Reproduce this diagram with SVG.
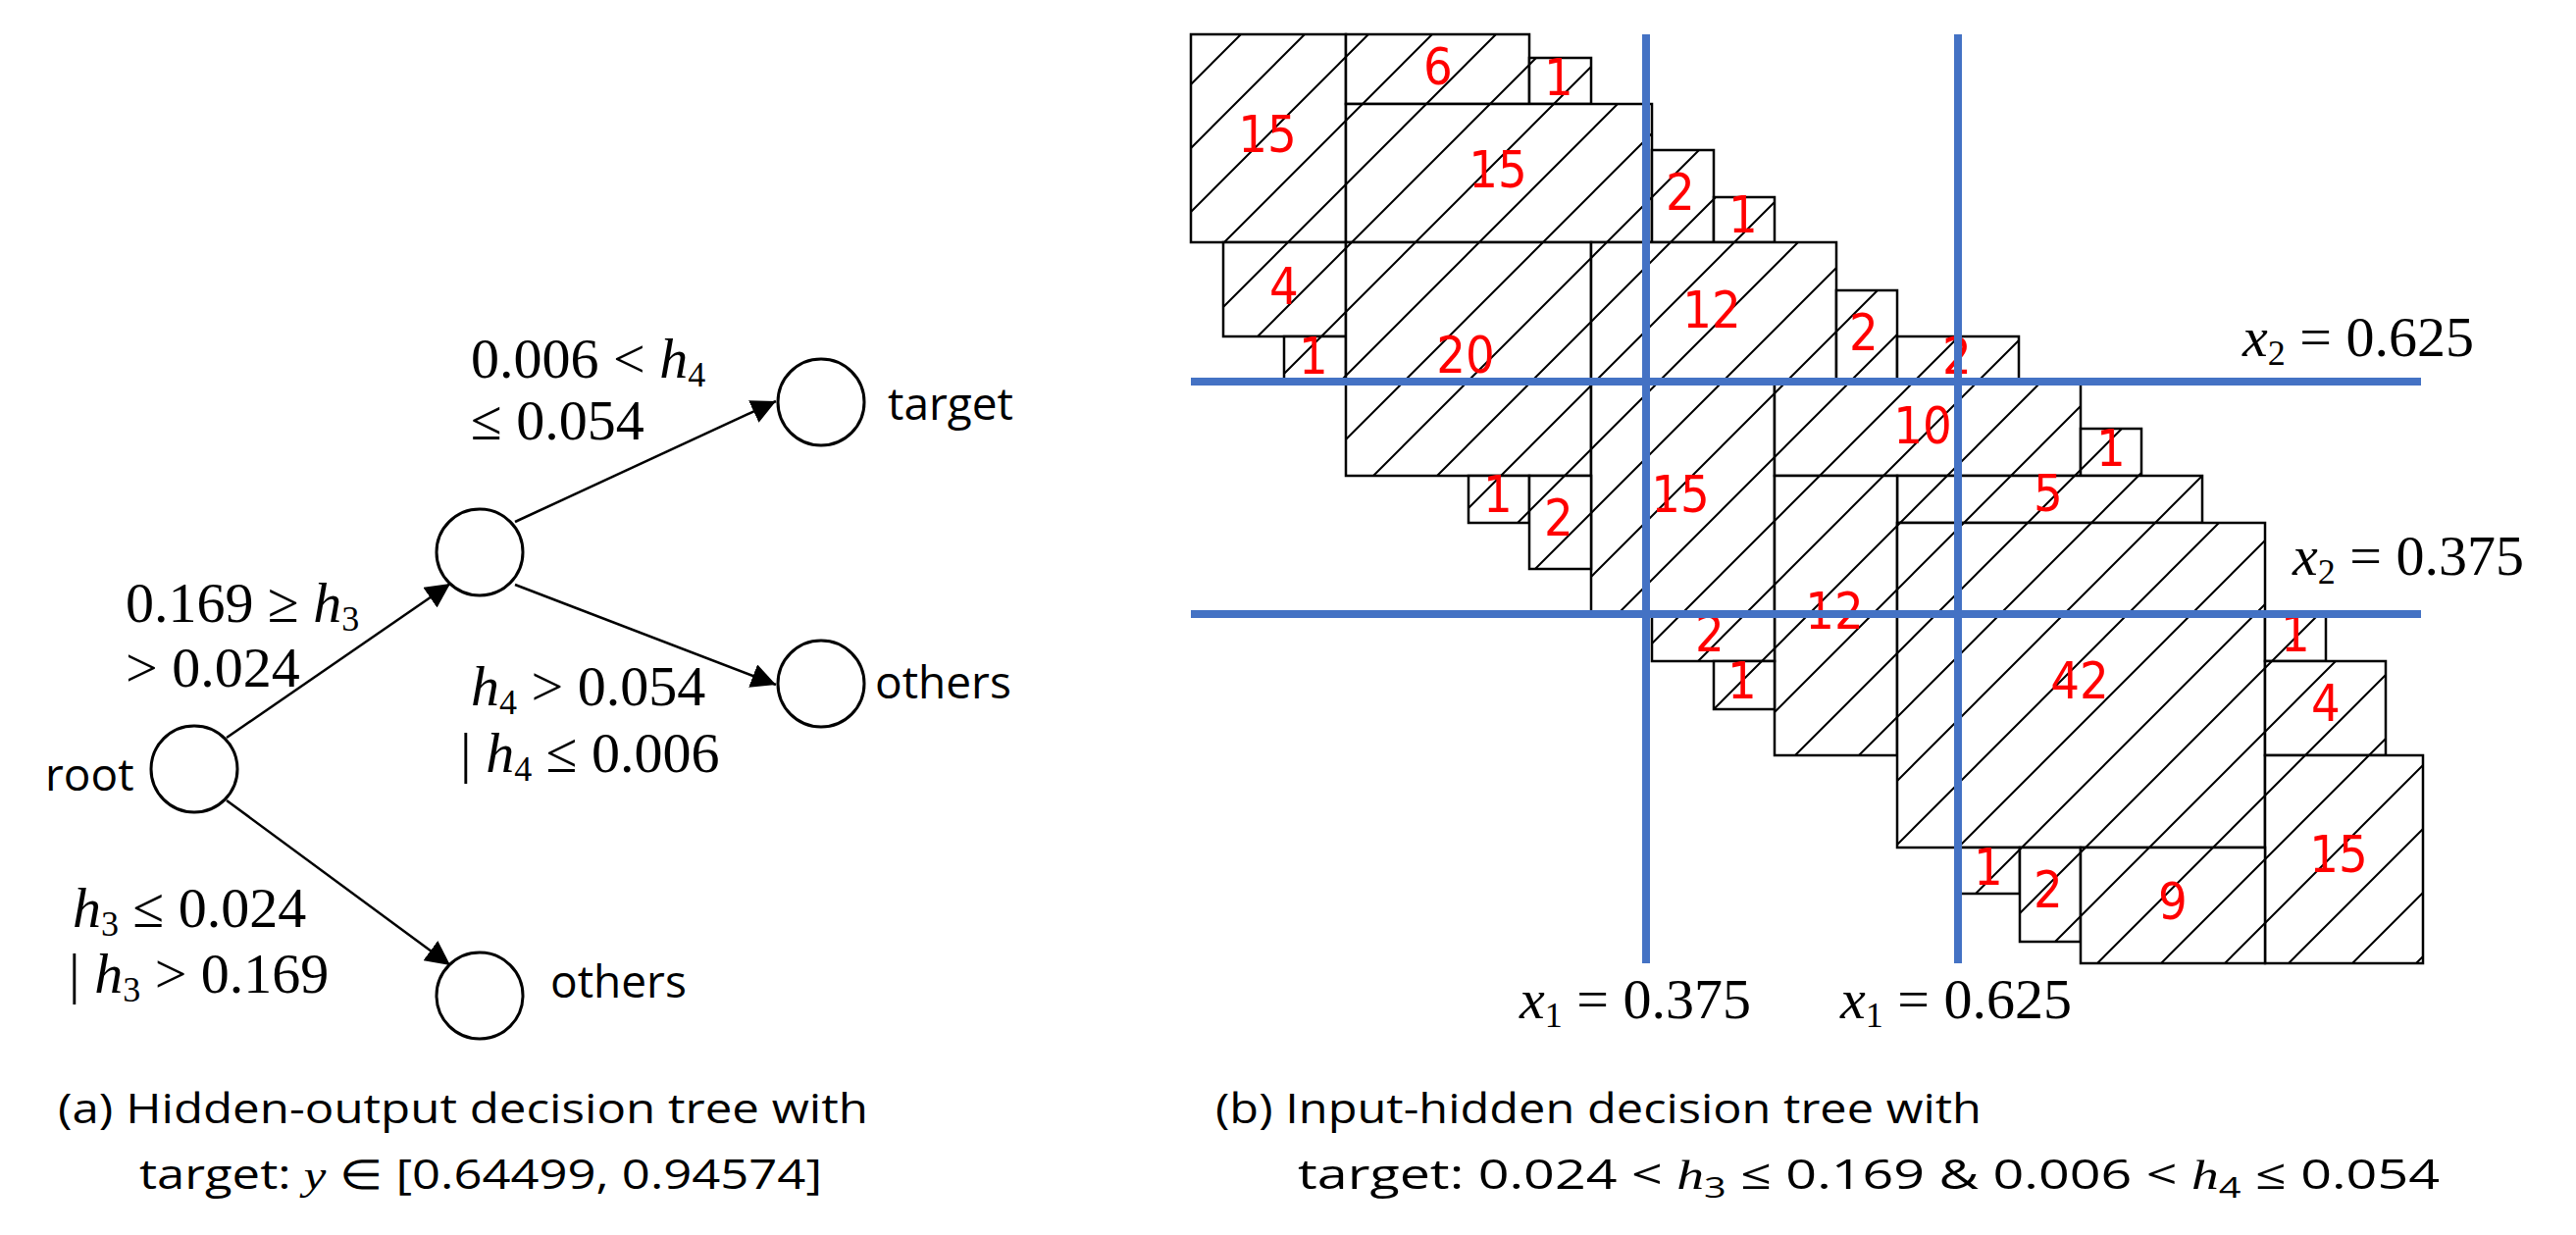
<svg xmlns="http://www.w3.org/2000/svg" width="2626" height="1259" viewBox="0 0 2626 1259">
<defs>
<style>
.nd{fill:#fff;stroke:#000;stroke-width:3}
.m{font-family:"Liberation Serif",serif;font-size:58px;fill:#000}
.i{font-style:italic}
.s{font-size:36px}
.lb{font-family:"Open Sans","Liberation Sans",sans-serif;font-size:46px;fill:#000}
.cap{font-family:"Open Sans","Liberation Sans",sans-serif;font-size:42px;fill:#000}
.r{fill:url(#hatch);stroke:#000;stroke-width:2.5}
.n{font-family:"DejaVu Sans Condensed","DejaVu Sans",sans-serif;font-size:52px;fill:#ff0000;text-anchor:middle}
.bl{stroke:#4472c4;stroke-width:8}
</style>
<marker id="ah2" viewBox="0 0 10 10" refX="10" refY="5" markerWidth="10" markerHeight="10" orient="auto"><path d="M0,0L10,5L0,10z" fill="#000"/></marker>
<pattern id="hatch" patternUnits="userSpaceOnUse" width="65" height="65"><rect width="65" height="65" fill="#fff"/><path d="M-10,10L10,-10M0,65L65,0M55,75L75,55" stroke="#000" stroke-width="2"/></pattern>
</defs>
<rect width="2626" height="1259" fill="#fff"/>

<g id="connectors">
<line x1="231" y1="752" x2="459" y2="595" stroke="#000" stroke-width="2.5" marker-end="url(#ah2)"/>
<line x1="525" y1="532" x2="791" y2="409" stroke="#000" stroke-width="2.5" marker-end="url(#ah2)"/>
<line x1="525" y1="596" x2="791" y2="698" stroke="#000" stroke-width="2.5" marker-end="url(#ah2)"/>
<line x1="231" y1="816" x2="459" y2="984" stroke="#000" stroke-width="2.5" marker-end="url(#ah2)"/>
</g>

<g id="root"><ellipse class="nd" cx="198" cy="784" rx="44" ry="44"/><text class="lb" x="46" y="806">root</text></g>
<g id="mid"><ellipse class="nd" cx="489" cy="563" rx="44" ry="44"/></g>
<g id="target"><ellipse class="nd" cx="837" cy="410" rx="44" ry="44"/><text class="lb" x="905" y="428">target</text></g>
<g id="others1"><ellipse class="nd" cx="837" cy="697" rx="44" ry="44"/><text class="lb" x="892" y="712">others</text></g>
<g id="others2"><ellipse class="nd" cx="489" cy="1015" rx="44" ry="44"/><text class="lb" x="561" y="1017">others</text></g>

<g id="edge-labels">
<text class="m" x="480" y="385">0.006 &lt; <tspan class="i">h</tspan><tspan class="s" dy="9">4</tspan></text>
<text class="m" x="480" y="448">≤ 0.054</text>
<text class="m" x="128" y="634">0.169 ≥ <tspan class="i">h</tspan><tspan class="s" dy="9">3</tspan></text>
<text class="m" x="128" y="700">&gt; 0.024</text>
<text class="m" x="480" y="719"><tspan class="i">h</tspan><tspan class="s" dy="9">4</tspan><tspan dy="-9"> &gt; 0.054</tspan></text>
<text class="m" x="469" y="787">| <tspan class="i">h</tspan><tspan class="s" dy="9">4</tspan><tspan dy="-9"> ≤ 0.006</tspan></text>
<text class="m" x="74" y="945"><tspan class="i">h</tspan><tspan class="s" dy="9">3</tspan><tspan dy="-9"> ≤ 0.024</tspan></text>
<text class="m" x="70" y="1012">| <tspan class="i">h</tspan><tspan class="s" dy="9">3</tspan><tspan dy="-9"> &gt; 0.169</tspan></text>
</g>

<g id="regions">
<rect class="r" x="1214" y="35" width="158" height="212"/>
<rect class="r" x="1372" y="35" width="187" height="71"/>
<rect class="r" x="1559" y="59" width="63" height="47"/>
<rect class="r" x="1372" y="106" width="312" height="141"/>
<rect class="r" x="1684" y="153" width="63" height="94"/>
<rect class="r" x="1747" y="201" width="62" height="46"/>
<rect class="r" x="1247" y="247" width="125" height="96"/>
<rect class="r" x="1309" y="343" width="63" height="46"/>
<rect class="r" x="1372" y="247" width="250" height="238"/>
<rect class="r" x="1622" y="247" width="250" height="142"/>
<rect class="r" x="1872" y="296" width="62" height="93"/>
<rect class="r" x="1934" y="343" width="124" height="46"/>
<rect class="r" x="1622" y="389" width="187" height="237"/>
<rect class="r" x="1809" y="389" width="312" height="96"/>
<rect class="r" x="2121" y="437" width="62" height="48"/>
<rect class="r" x="1497" y="485" width="62" height="48"/>
<rect class="r" x="1559" y="485" width="63" height="95"/>
<rect class="r" x="1934" y="485" width="311" height="48"/>
<rect class="r" x="1809" y="485" width="125" height="285"/>
<rect class="r" x="1934" y="533" width="375" height="331"/>
<rect class="r" x="1684" y="626" width="125" height="48"/>
<rect class="r" x="1747" y="674" width="62" height="49"/>
<rect class="r" x="2309" y="626" width="62" height="48"/>
<rect class="r" x="2309" y="674" width="123" height="96"/>
<rect class="r" x="2309" y="770" width="161" height="212"/>
<rect class="r" x="1996" y="864" width="63" height="47"/>
<rect class="r" x="2059" y="864" width="62" height="96"/>
<rect class="r" x="2121" y="864" width="188" height="118"/>
</g>

<g id="counts">
<text class="n" x="1292" y="155">15</text>
<text class="n" x="1466" y="86">6</text>
<text class="n" x="1589" y="97">1</text>
<text class="n" x="1527" y="191">15</text>
<text class="n" x="1713" y="214">2</text>
<text class="n" x="1777" y="237">1</text>
<text class="n" x="1309" y="310">4</text>
<text class="n" x="1339" y="381">1</text>
<text class="n" x="1494" y="380">20</text>
<text class="n" x="1745" y="334">12</text>
<text class="n" x="1900" y="357">2</text>
<text class="n" x="1995" y="381">2</text>
<text class="n" x="1960" y="452">10</text>
<text class="n" x="1713" y="522">15</text>
<text class="n" x="1527" y="522">1</text>
<text class="n" x="1589" y="546">2</text>
<text class="n" x="2088" y="521">5</text>
<text class="n" x="2152" y="475">1</text>
<text class="n" x="1870" y="641">12</text>
<text class="n" x="1743" y="664">2</text>
<text class="n" x="1776" y="712">1</text>
<text class="n" x="2120" y="712">42</text>
<text class="n" x="2340" y="664">1</text>
<text class="n" x="2371" y="735">4</text>
<text class="n" x="2384" y="889">15</text>
<text class="n" x="2027" y="902">1</text>
<text class="n" x="2088" y="925">2</text>
<text class="n" x="2215" y="937">9</text>
</g>

<g id="splits">
<line class="bl" x1="1678" y1="35" x2="1678" y2="982"/>
<line class="bl" x1="1996" y1="35" x2="1996" y2="982"/>
<line class="bl" x1="1214" y1="389" x2="2468" y2="389"/>
<line class="bl" x1="1214" y1="626" x2="2468" y2="626"/>
<text class="m" x="2286" y="363"><tspan class="i">x</tspan><tspan class="s" dy="9">2</tspan><tspan dy="-9"> = 0.625</tspan></text>
<text class="m" x="2337" y="586"><tspan class="i">x</tspan><tspan class="s" dy="9">2</tspan><tspan dy="-9"> = 0.375</tspan></text>
<text class="m" x="1549" y="1038"><tspan class="i">x</tspan><tspan class="s" dy="9">1</tspan><tspan dy="-9"> = 0.375</tspan></text>
<text class="m" x="1876" y="1038"><tspan class="i">x</tspan><tspan class="s" dy="9">1</tspan><tspan dy="-9"> = 0.625</tspan></text>
</g>

<g id="captions">
<text class="cap" x="59" y="1145" textLength="826" lengthAdjust="spacingAndGlyphs">(a)  Hidden-output decision tree with</text>
<text class="cap" x="142" y="1212" textLength="696" lengthAdjust="spacingAndGlyphs">target: <tspan font-family="Liberation Serif,serif" font-style="italic">y</tspan> ∈ [0.64499, 0.94574]</text>
<text class="cap" x="1239" y="1145" textLength="781" lengthAdjust="spacingAndGlyphs">(b) Input-hidden decision tree with</text>
<text class="cap" x="1323" y="1212" textLength="1164" lengthAdjust="spacingAndGlyphs">target: 0.024 &lt; <tspan font-family="Liberation Serif,serif" font-style="italic">h</tspan><tspan font-size="30" dy="9">3</tspan><tspan dy="-9"> ≤ 0.169 &amp; 0.006 &lt; </tspan><tspan font-family="Liberation Serif,serif" font-style="italic">h</tspan><tspan font-size="30" dy="9">4</tspan><tspan dy="-9"> ≤ 0.054</tspan></text>
</g>
</svg>
